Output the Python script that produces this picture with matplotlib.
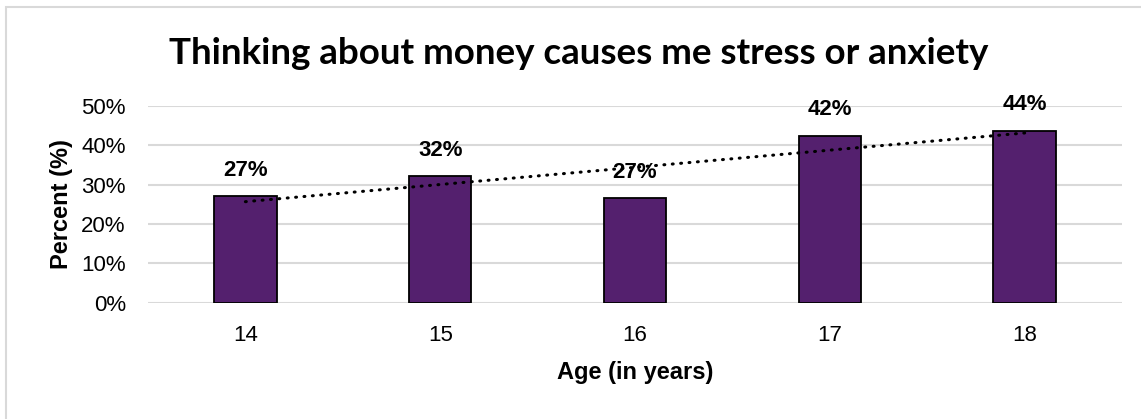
import matplotlib
matplotlib.use("Agg")
import matplotlib.pyplot as plt
import numpy as np
from matplotlib.patches import Rectangle

# Survey results by age
ages = ["14", "15", "16", "17", "18"]
percents = [0.270, 0.322, 0.265, 0.424, 0.437]
pct_labels = ["27%", "32%", "27%", "42%", "44%"]
y_ticks = [0.0, 0.1, 0.2, 0.3, 0.4, 0.5]

title = "Thinking about money causes me stress or anxiety"
x_title = "Age (in years)"
y_title = "Percent (%)"

bar_color = "#54206e"
grid_color = "#d9d9d9"

fig = plt.figure(figsize=(11.41, 4.19), dpi=100)
ax = fig.add_axes([0.1297, 0.2776, 0.8537, 0.4701])

x = np.arange(len(ages))
ax.bar(x, percents, width=0.32, color=bar_color, edgecolor="black",
       linewidth=1.3, zorder=2)

# linear trendline across the categories
slope, icept = np.polyfit(x, percents, 1)
ax.plot(x, slope * x + icept, color="black", linestyle=(0, (0.3, 2.45)),
        linewidth=2.2, dash_capstyle="round", zorder=3)

for xi, v, lab in zip(x, percents, pct_labels):
    ax.annotate(lab, (xi, v), xytext=(0, 18.5), textcoords="offset points",
                ha="center", va="center", fontsize=16, fontweight="bold",
                family="Liberation Sans", zorder=4)

ax.set_xlim(-0.5, len(ages) - 0.5)
ax.set_ylim(0, 0.5)
ax.set_yticks(y_ticks)
ax.set_yticklabels([f"{int(round(t * 100))}%" for t in y_ticks],
                   family="Liberation Sans", fontsize=16)
ax.set_xticks(x)
ax.set_xticklabels(ages, family="Liberation Sans", fontsize=16)
ax.tick_params(axis="y", length=0, pad=16)
ax.tick_params(axis="x", length=0, pad=16)
ax.grid(axis="y", color=grid_color, linewidth=1.5, zorder=0)
ax.set_axisbelow(True)
for s in ax.spines.values():
    s.set_visible(False)

ax.set_xlabel(x_title, fontsize=17, fontweight="bold",
              family="Liberation Sans", labelpad=11)
ax.set_ylabel(y_title, fontsize=17, fontweight="bold",
              family="Liberation Sans", labelpad=6)

fig.text(0.507, 0.872, title, ha="center", va="center", fontsize=26.5,
         fontweight="bold", family="Lato")

# chart frame
fig.patches.append(Rectangle((6 / 1141, -0.1), 1.2, 1.1 - 7.5 / 419,
                             transform=fig.transFigure, fill=False,
                             edgecolor="#d9d9d9", linewidth=1.5))

fig.savefig("out.png", dpi=100)
